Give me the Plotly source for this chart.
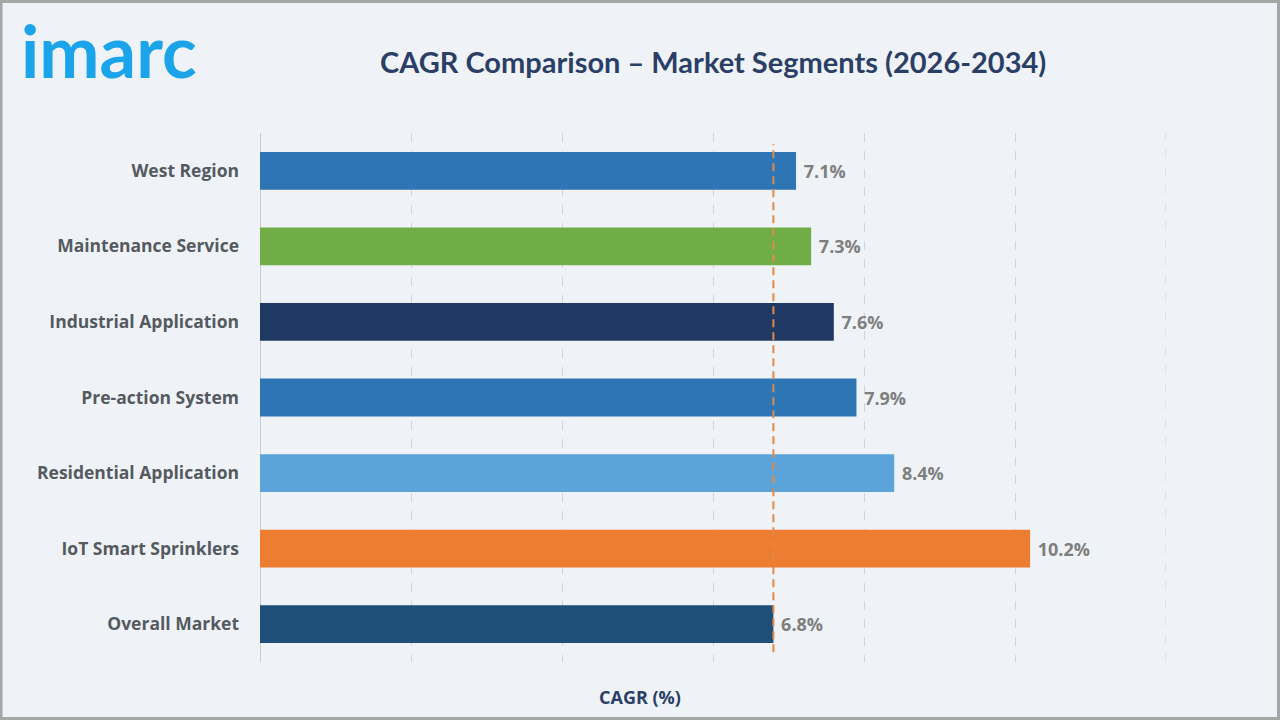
import plotly.graph_objects as go

categories = ["Overall Market", "IoT Smart Sprinklers", "Residential Application",
              "Pre-action System", "Industrial Application", "Maintenance Service", "West Region"]
cagr_values = [6.8, 10.2, 8.4, 7.9, 7.6, 7.3, 7.1]
bar_colors = ["#1f4e79", "#ed7d31", "#5ba3d9", "#2e75b6", "#1f3864", "#70ad47", "#2e75b6"]
overall_cagr = 6.8
x_ticks = [0, 2, 4, 6, 8, 10, 12]

W, H = 1280, 720
L, R, T, B = 260, 114, 133, 58
pw, ph = W - L - R, H - T - B

fig = go.Figure()
fig.add_trace(go.Bar(
    y=categories, x=cagr_values, orientation="h",
    marker=dict(color=bar_colors, line=dict(width=0)),
    width=0.5,
    text=[f" {v}%" for v in cagr_values],
    textposition="outside", cliponaxis=False,
    textfont=dict(family="Open Sans, Noto Sans, sans-serif", size=18, color="#7f7f7f", weight="bold"),
    hoverinfo="skip",
))

# last gridline at the right edge of the range
fig.add_shape(type="line", xref="x", yref="paper", x0=x_ticks[-1], x1=x_ticks[-1],
              y0=0, y1=1, line=dict(color="#cfd5de", width=1, dash="dash"), layer="below")

fig.add_shape(type="line", xref="x", yref="y", x0=overall_cagr, x1=overall_cagr,
              y0=-0.37, y1=6.35, line=dict(color="#e08a4a", width=2, dash="8px,5px"))

# outer border
fig.add_shape(type="rect", xref="paper", yref="paper",
              x0=-L / pw + 1 / pw, x1=1 + (R - 1.5) / pw,
              y0=-(B - 1.5) / ph, y1=1 + (T - 1.5) / ph,
              line=dict(color="#a6a6a6", width=3), fillcolor="rgba(0,0,0,0)", layer="below")

fig.add_annotation(text="CAGR Comparison – Market Segments (2026-2034)",
                   xref="paper", yref="paper", x=0.5, y=1 + (T - 61) / ph,
                   showarrow=False, xanchor="center", yanchor="middle",
                   font=dict(family="Lato, sans-serif", size=29, color="#2b3f66", weight="bold"))

fig.add_annotation(text="imarc", xref="paper", yref="paper",
                   x=(19 - L) / pw, y=1 + (T - 50) / ph,
                   showarrow=False, xanchor="left", yanchor="middle",
                   font=dict(family="Lato, sans-serif", size=72, color="#1ca4ea", weight="bold"))

fig.add_annotation(text="CAGR (%)", xref="paper", yref="paper",
                   x=(640 - L) / pw, y=-(697 - (H - B)) / ph,
                   showarrow=False, xanchor="center", yanchor="middle",
                   font=dict(family="Open Sans, Noto Sans, sans-serif", size=18, color="#2b3f66", weight="bold"))

fig.update_layout(
    width=W, height=H,
    margin=dict(l=L, r=R, t=T, b=B),
    paper_bgcolor="#eff3f8", plot_bgcolor="#eff3f8",
    showlegend=False,
    bargap=0.5,
    xaxis=dict(range=[0, 12], tickvals=x_ticks, showticklabels=False,
               showgrid=True, gridcolor="#cfd5de", griddash="dash", gridwidth=1,
               zeroline=True, zerolinecolor="#c8ccd2", zerolinewidth=1,
               showline=False, fixedrange=True),
    yaxis=dict(range=[-0.5, 6.5], showgrid=False, zeroline=False,
               ticks="", ticklabelstandoff=20,
               tickfont=dict(family="Open Sans, Noto Sans, sans-serif", size=17.5, color="#555a60", weight="bold"),
               fixedrange=True),
)

fig.write_html("out.html")
